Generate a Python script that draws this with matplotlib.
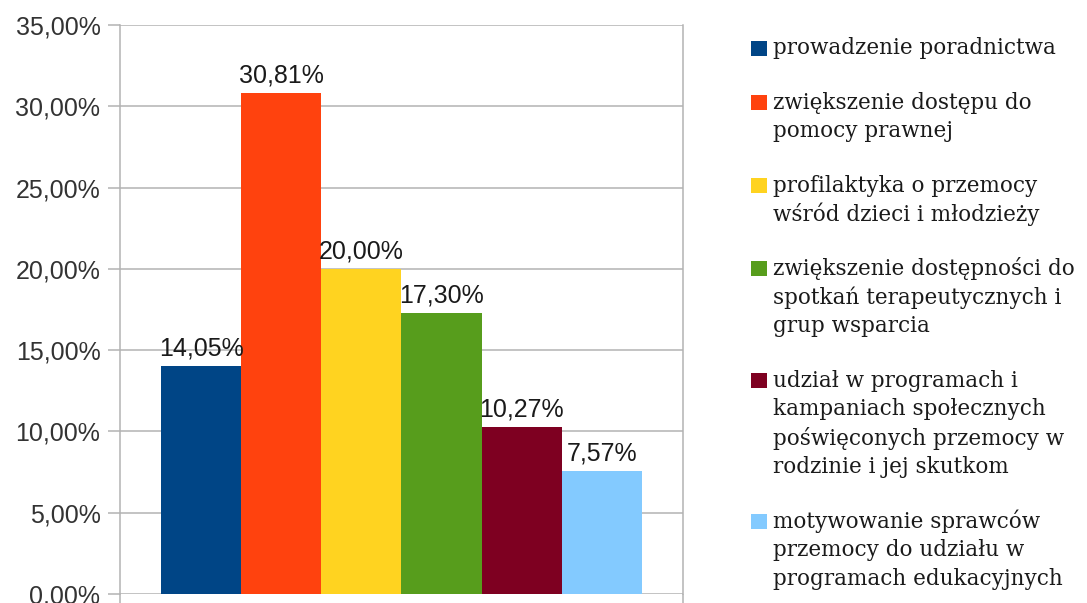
import matplotlib.pyplot as plt
from matplotlib.patches import Rectangle
from matplotlib.ticker import FuncFormatter, MultipleLocator

# dane z wykresu (procenty)
labels = [
    'prowadzenie poradnictwa',
    'zwiększenie dostępu do\npomocy prawnej',
    'profilaktyka o przemocy\nwśród dzieci i młodzieży',
    'zwiększenie dostępności do\nspotkań terapeutycznych i\ngrup wsparcia',
    'udział w programach i\nkampaniach społecznych\npoświęconych przemocy w\nrodzinie i jej skutkom',
    'motywowanie sprawców\nprzemocy do udziału w\nprogramach edukacyjnych',
]
values = [14.05, 30.81, 20.00, 17.30, 10.27, 7.57]
colors = ['#004586', '#ff420e', '#ffd320', '#579d1c', '#7e0021', '#83caff']

grid_color = '#b3b3b3'
text_color = '#333333'

fig = plt.figure(figsize=(10.87, 6.03), dpi=100)
ax = fig.add_axes([0.1104, 0.0149, 0.5179, 0.9436])

w = 0.1424
bars = []
for i, (v, c) in enumerate(zip(values, colors)):
    b = ax.bar((i - 2.5) * w, v, width=w, color=c, zorder=3)
    bars.append(b[0])
    ax.annotate(f'{v:.2f}%'.replace('.', ','), xy=((i - 2.5) * w, v),
                xytext=(0, 4), textcoords='offset points', ha='center', va='bottom',
                fontsize=18, family='Liberation Sans', color='#1a1a1a', zorder=4)

ax.set_xlim(-0.5, 0.5)
ax.set_ylim(0, 35)
ax.yaxis.set_major_locator(MultipleLocator(5))
ax.yaxis.set_major_formatter(FuncFormatter(lambda v, p: f'{v:.2f}%'.replace('.', ',')))
ax.set_xticks([-0.5, 0.5])
ax.set_xticklabels([])
ax.grid(axis='y', color=grid_color, linewidth=1.1, zorder=0)
ax.tick_params(axis='y', length=8.6, width=1.1, color=grid_color, pad=5.5,
               labelsize=18, labelcolor=text_color)
ax.tick_params(axis='x', length=6.5, width=1.1, color=grid_color)
for t in ax.get_yticklabels():
    t.set_family('Liberation Sans')
for s in ['left', 'right', 'top', 'bottom']:
    ax.spines[s].set_color(grid_color)
    ax.spines[s].set_linewidth(1.1)
ax.spines['top'].set_visible(False)
ax.spines['bottom'].set_visible(False)

# legenda (kwadrat przy pierwszej linii)
W, H = 1087, 603
y = 48
line_step = 28.7
entry_gap = 54.5
for lab, c in zip(labels, colors):
    lines = lab.split('\n')
    fig.patches.append(Rectangle((751 / W, 1 - (y + 7.5) / H), 16 / W, 15 / H,
                                 transform=fig.transFigure, facecolor=c, edgecolor='none'))
    for k, ln in enumerate(lines):
        fig.text(773 / W, 1 - y / H, ln, ha='left', va='center', fontsize=15.5,
                 family='DejaVu Serif', color='#1a1a1a')
        if k < len(lines) - 1:
            y += line_step
    y += entry_gap

fig.savefig('out.png', dpi=100)
